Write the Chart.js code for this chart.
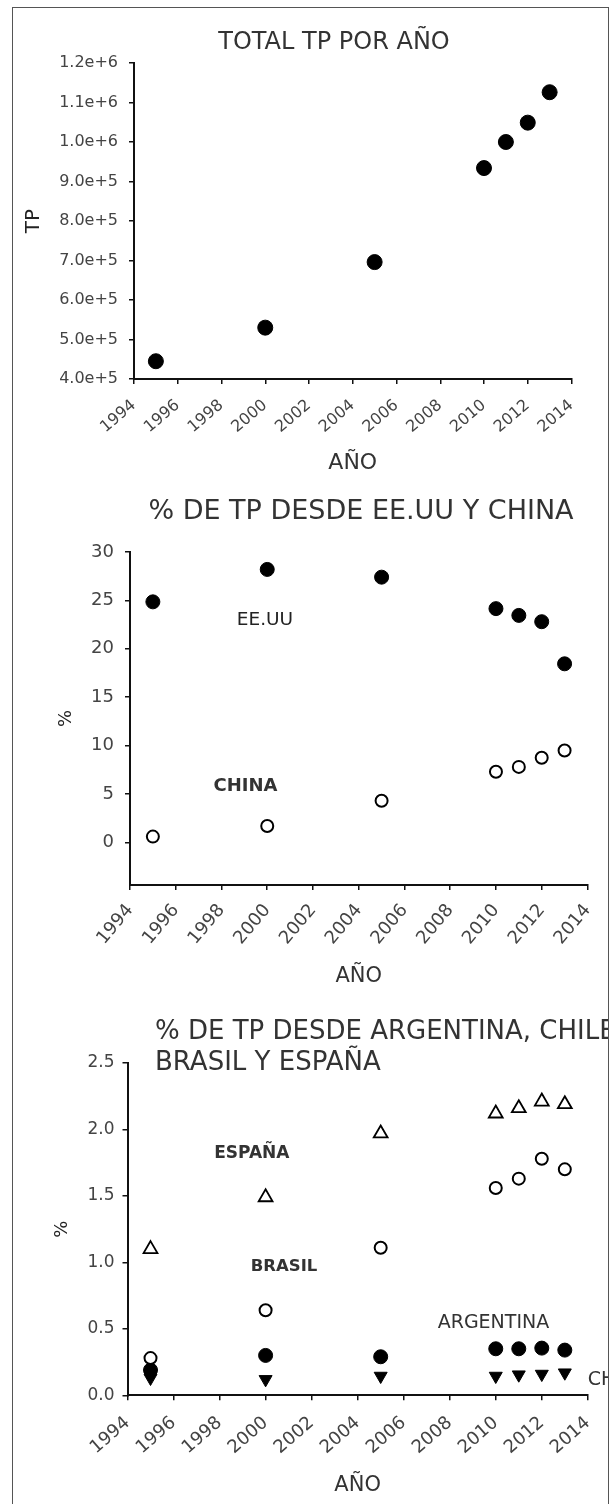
<!DOCTYPE html>
<html>
<head>
<meta charset="utf-8">
<script src="https://cdn.jsdelivr.net/npm/chart.js@4.4.1/dist/chart.umd.min.js"></script>
<style>
  html, body { margin: 0; padding: 0; background: #fff; width: 614px; height: 1504px; overflow: hidden; }
  #clip { position: absolute; left: 0; top: 0; width: 609px; height: 1504px; overflow: hidden; }
  #clip canvas { position: absolute; left: 0; }
  #frame { position: absolute; left: 12px; top: 7px; width: 595px; height: 1530px; border: 1.5px solid #555; pointer-events: none; }
</style>
</head>
<body>
<div id="clip">
  <canvas id="c1" width="614" height="480" style="top:0px;width:614px;height:480px"></canvas>
  <canvas id="c2" width="614" height="520" style="top:480px;width:614px;height:520px"></canvas>
  <canvas id="c3" width="614" height="504" style="top:1000px;width:614px;height:504px"></canvas>
</div>
<div id="frame"></div>

<script>
// ---------- data ----------
const years = [1995, 2000, 2005, 2010, 2011, 2012, 2013];

const totalTP = [445000, 530000, 696000, 934000, 1000000, 1049000, 1126000];

const pctEEUU  = [24.85, 28.2, 27.4, 24.15, 23.45, 22.8, 18.45];
const pctChina = [0.6, 1.7, 4.3, 7.3, 7.8, 8.75, 9.5];

const pctEspana    = [1.10, 1.49, 1.97, 2.12, 2.16, 2.21, 2.19];
const pctBrasil    = [0.28, 0.64, 1.11, 1.56, 1.63, 1.78, 1.70];
const pctArgentina = [0.19, 0.30, 0.29, 0.35, 0.35, 0.355, 0.34];
const pctChile     = [0.13, 0.12, 0.145, 0.145, 0.155, 0.16, 0.17];

// series labels written inside the plots (value coordinates)
const notes2 = [
  { text: 'EE.UU', x: 1999.9, y: 23.0 },
  { text: 'CHINA', x: 1999.05, y: 5.8 }
];
const notes3 = [
  { text: 'ESPAÑA', x: 1999.4, y: 1.82 },
  { text: 'BRASIL', x: 2000.8, y: 0.97 },
  { text: 'ARGENTINA', x: 2009.9, y: 0.545 },
  { text: 'CHILE', x: 2014.0, y: 0.115 }
];

const FONT = "'DejaVu Sans', sans-serif";

// ---------- plugin: heading + in-plot labels ----------
const notesPlugin = {
  id: 'notes',
  afterDatasetsDraw(chart, args, opts) {
    const { ctx, scales } = chart;
    ctx.save();
    ctx.textBaseline = 'middle';
    (opts.heading || []).forEach(h => {
      ctx.font = h.font;
      ctx.fillStyle = '#333';
      ctx.textAlign = h.align || 'center';
      ctx.fillText(h.text, h.x, h.y);
    });
    (opts.items || []).forEach((n, i) => {
      const st = (opts.styles && opts.styles[i]) || {};
      ctx.font = st.font || ('18px ' + FONT);
      ctx.fillStyle = st.color || '#333';
      ctx.textAlign = st.align || 'center';
      ctx.fillText(n.text, scales.x.getPixelForValue(n.x), scales.y.getPixelForValue(n.y));
    });
    ctx.restore();
  }
};

function pts(vals) {
  return years.map((x, i) => ({ x: x, y: vals[i] }));
}

function makeChart(id, cfg) {
  return new Chart(document.getElementById(id), {
    type: 'scatter',
    data: { datasets: cfg.datasets },
    options: {
      responsive: false,
      animation: false,
      layout: { padding: cfg.padding },
      plugins: {
        legend: { display: false },
        tooltip: { enabled: false },
        notes: cfg.notes
      },
      scales: {
        x: {
          min: 1994, max: 2014,
          border: { color: '#111', width: 2 },
          grid: { drawOnChartArea: false, tickLength: 5, color: '#111', lineWidth: 1.5 },
          ticks: {
            stepSize: 2, autoSkip: false,
            minRotation: cfg.xRot, maxRotation: cfg.xRot,
            padding: cfg.xPad,
            color: '#444',
            font: { family: FONT, size: cfg.xTickSize },
            callback: v => String(v)
          },
          title: {
            display: true, text: 'AÑO', color: '#333',
            font: { family: FONT, size: cfg.xTitleSize },
            padding: { top: 0, bottom: cfg.xTitlePad }
          },
          afterFit: s => { s.height = cfg.xHeight; }
        },
        y: {
          min: cfg.yMin, max: cfg.yMax,
          border: { color: '#111', width: 2 },
          grid: { drawOnChartArea: false, tickLength: 5, color: '#111', lineWidth: 1.5 },
          ticks: {
            stepSize: cfg.yStep,
            includeBounds: false,
            padding: cfg.yPad,
            color: '#444',
            font: { family: FONT, size: cfg.yTickSize },
            callback: cfg.yFmt
          },
          title: {
            display: true, text: cfg.yTitle, color: '#222',
            font: { family: FONT, size: cfg.yTitleSize },
            padding: { top: cfg.yTitlePad, bottom: 0 }
          },
          afterFit: s => { s.width = cfg.yWidth; }
        }
      }
    },
    plugins: [notesPlugin]
  });
}

// ---------- panel 1: total TP ----------
makeChart('c1', {
  padding: { top: 63, right: 42.5, left: 0, bottom: 0 },
  yWidth: 134, xHeight: 101,
  yMin: 400000, yMax: 1200000, yStep: 100000,
  yFmt: v => v.toExponential(1),
  yTickSize: 16, yPad: 11,
  xTickSize: 16, xRot: 40, xPad: 12,
  yTitle: 'TP', yTitleSize: 20, yTitlePad: 22,
  xTitleSize: 22, xTitlePad: 4,
  notes: {
    heading: [{ text: 'TOTAL TP POR AÑO', x: 334, y: 43, font: '24px ' + FONT }]
  },
  datasets: [{
    data: pts(totalTP),
    pointStyle: 'circle', pointRadius: 7.5,
    backgroundColor: '#000', borderColor: '#000', borderWidth: 1
  }]
});

// ---------- panel 2: EE.UU y China ----------
makeChart('c2', {
  padding: { top: 72, right: 21, left: 0, bottom: 0 },
  yWidth: 130, xHeight: 115,
  yMin: -4.4, yMax: 30, yStep: 5,
  yFmt: v => String(v),
  yTickSize: 18, yPad: 11,
  xTickSize: 18, xRot: 50, xPad: 10,
  yTitle: '%', yTitleSize: 18, yTitlePad: 56,
  xTitleSize: 21, xTitlePad: 11,
  notes: {
    heading: [{ text: '% DE TP DESDE EE.UU Y CHINA', x: 361, y: 32, font: '27px ' + FONT }],
    items: notes2,
    styles: [
      { font: '18.5px ' + FONT, color: '#222' },
      { font: 'bold 18px ' + FONT, color: '#333' }
    ]
  },
  datasets: [
    {
      data: pts(pctEEUU),
      pointStyle: 'circle', pointRadius: 7,
      backgroundColor: '#000', borderColor: '#000', borderWidth: 1
    },
    {
      data: pts(pctChina),
      pointStyle: 'circle', pointRadius: 6,
      backgroundColor: '#fff', borderColor: '#000', borderWidth: 2
    }
  ]
});

// ---------- panel 3: Argentina, Chile, Brasil y España ----------
makeChart('c3', {
  padding: { top: 63, right: 22, left: 0, bottom: 0 },
  yWidth: 127.5, xHeight: 108.7,
  yMin: 0, yMax: 2.5, yStep: 0.5,
  yFmt: v => v.toFixed(1),
  yTickSize: 17, yPad: 8,
  xTickSize: 18, xRot: 41, xPad: 12,
  yTitle: '%', yTitleSize: 18, yTitlePad: 52,
  xTitleSize: 21, xTitlePad: 6,
  notes: {
    heading: [
      { text: '% DE TP DESDE ARGENTINA, CHILE', x: 155, y: 32, align: 'left', font: '26px ' + FONT },
      { text: 'BRASIL Y ESPAÑA', x: 155, y: 63, align: 'left', font: '26px ' + FONT }
    ],
    items: notes3,
    styles: [
      { font: 'bold 17px ' + FONT, color: '#333' },
      { font: 'bold 16.5px ' + FONT, color: '#333' },
      { font: '19px ' + FONT, color: '#333' },
      { font: '19px ' + FONT, color: '#333', align: 'left' }
    ]
  },
  datasets: [
    {
      data: pts(pctEspana),
      pointStyle: 'triangle', pointRadius: 8,
      backgroundColor: '#fff', borderColor: '#000', borderWidth: 1.8
    },
    {
      data: pts(pctBrasil),
      pointStyle: 'circle', pointRadius: 6,
      backgroundColor: '#fff', borderColor: '#000', borderWidth: 2
    },
    {
      data: pts(pctArgentina),
      pointStyle: 'circle', pointRadius: 7,
      backgroundColor: '#000', borderColor: '#000', borderWidth: 1
    },
    {
      data: pts(pctChile),
      pointStyle: 'triangle', rotation: 180, pointRadius: 7.5,
      backgroundColor: '#000', borderColor: '#000', borderWidth: 1
    }
  ]
});
</script>
</body>
</html>
